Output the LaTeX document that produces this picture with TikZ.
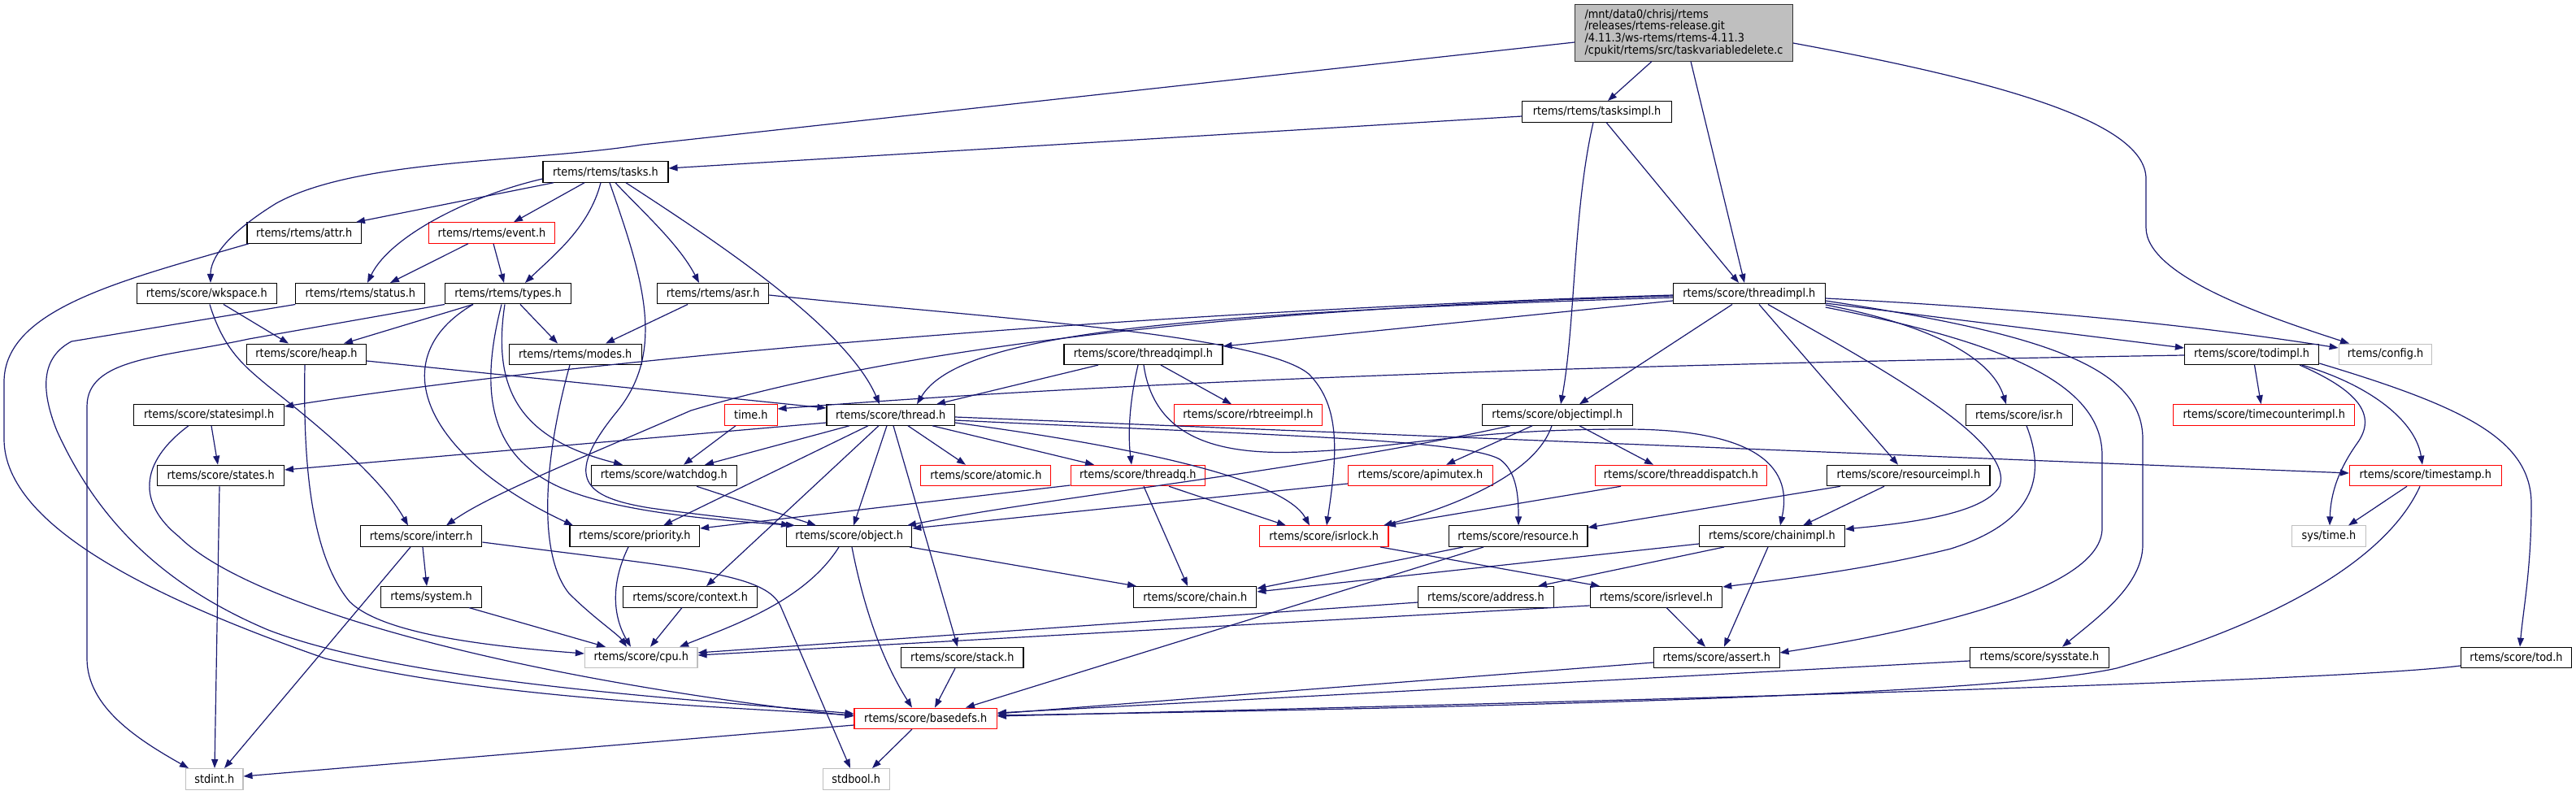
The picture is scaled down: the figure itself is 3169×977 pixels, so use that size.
\documentclass[tikz,border=0pt]{standalone}
\usepackage{fontspec}
\newfontfamily\dxfont[FakeStretch=0.9]{DejaVu Sans}
\usetikzlibrary{arrows.meta}
\definecolor{edgeblue}{HTML}{191970}
\definecolor{lgray}{HTML}{BFBFBF}
\tikzset{
  box/.style={draw=black, line width=1.05pt, fill=white, minimum height=25.5pt, inner sep=0pt, text=black, font=\dxfont\fontsize{14.3}{14.8}\selectfont},
  rbox/.style={box, draw=red},
  gbox/.style={box, draw=lgray},
  mainbox/.style={box, fill=lgray, draw=black!80, align=left, inner xsep=9pt, inner ysep=5pt},
  edge/.style={draw=edgeblue, line width=1.2pt, -{Triangle[length=11pt,width=8pt,fill=edgeblue]}}
}
\begin{document}
\begin{tikzpicture}[x=1pt,y=-1pt]
\useasboundingbox (0,0) rectangle (3169,977);
% nodes
\node[mainbox, minimum width=268pt, minimum height=69.3pt] (main) at (2071.5,40.4) {/mnt/data0/chrisj/rtems\\/releases/rtems-release.git\\/4.11.3/ws-rtems/rtems-4.11.3\\/cpukit/rtems/src/taskvariabledelete.c};
\node[box, minimum width=183.6pt] (tasksimpl) at (1964.6,137.3) {rtems/rtems/tasksimpl.h};
\node[box, minimum width=154pt] (tasks) at (745,211.5) {rtems/rtems/tasks.h};
\node[box, minimum width=140.4pt] (attr) at (374.2,286.5) {rtems/rtems/attr.h};
\node[rbox, minimum width=155pt] (event) at (605,286.5) {rtems/rtems/event.h};
\node[box, minimum width=172pt] (wkspace) at (254.3,361.2) {rtems/score/wkspace.h};
\node[box, minimum width=159pt] (status) at (443.4,361.2) {rtems/rtems/status.h};
\node[box, minimum width=155pt] (types) at (625,361.2) {rtems/rtems/types.h};
\node[box, minimum width=137pt] (asr) at (877.2,361.2) {rtems/rtems/asr.h};
\node[box, minimum width=186.7pt] (threadimpl) at (2151.8,361.2) {rtems/score/threadimpl.h};
\node[box, minimum width=147pt] (heap) at (377,435.8) {rtems/score/heap.h};
\node[box, minimum width=163.3pt] (modes) at (707.7,435.8) {rtems/rtems/modes.h};
\node[box, minimum width=195pt] (threadqimpl) at (1406.5,435.8) {rtems/score/threadqimpl.h};
\node[box, minimum width=165.4pt] (todimpl) at (2770.1,435.8) {rtems/score/todimpl.h};
\node[gbox, minimum width=114.7pt] (config) at (2934.5,435.8) {rtems/config.h};
\node[box, minimum width=184.7pt] (statesimpl) at (257.1,510.5) {rtems/score/statesimpl.h};
\node[rbox, minimum width=64.3pt] (time) at (923.9,510.5) {time.h};
\node[box, minimum width=157.4pt] (thread) at (1095.7,510.5) {rtems/score/thread.h};
\node[rbox, minimum width=182.5pt] (rbtreeimpl) at (1535.5,510.5) {rtems/score/rbtreeimpl.h};
\node[box, minimum width=184.7pt] (objectimpl) at (1915.7,510.5) {rtems/score/objectimpl.h};
\node[box, minimum width=131.2pt] (isr) at (2483.8,510.5) {rtems/score/isr.h};
\node[rbox, minimum width=223.1pt] (timecounterimpl) at (2785.2,510.5) {rtems/score/timecounterimpl.h};
\node[box, minimum width=155.6pt] (states) at (271.7,585) {rtems/score/states.h};
\node[box, minimum width=179.5pt] (watchdog) at (816.8,585) {rtems/score/watchdog.h};
\node[rbox, minimum width=160pt] (atomic) at (1212.9,585) {rtems/score/atomic.h};
\node[rbox, minimum width=165.5pt] (threadq) at (1399.8,585) {rtems/score/threadq.h};
\node[rbox, minimum width=178pt] (apimutex) at (1747.5,585) {rtems/score/apimutex.h};
\node[rbox, minimum width=211.8pt] (threaddispatch) at (2067.9,585) {rtems/score/threaddispatch.h};
\node[box, minimum width=200.1pt] (resourceimpl) at (2347.9,585) {rtems/score/resourceimpl.h};
\node[rbox, minimum width=186.6pt] (timestamp) at (2983.7,585) {rtems/score/timestamp.h};
\node[box, minimum width=149.5pt] (interr) at (518.2,659.7) {rtems/score/interr.h};
\node[box, minimum width=159.6pt] (priority) at (780.8,659.7) {rtems/score/priority.h};
\node[box, minimum width=154pt] (object) at (1044.8,659.7) {rtems/score/object.h};
\node[rbox, minimum width=158.6pt] (isrlock) at (1628.7,659.7) {rtems/score/isrlock.h};
\node[box, minimum width=170.5pt] (resource) at (1867.7,659.7) {rtems/score/resource.h};
\node[box, minimum width=178.6pt] (chainimpl) at (2179.9,659.7) {rtems/score/chainimpl.h};
\node[gbox, minimum width=91pt] (systime) at (2865,659.7) {sys/time.h};
\node[box, minimum width=124.5pt] (system) at (530.6,734.3) {rtems/system.h};
\node[box, minimum width=164.7pt] (context) at (849.2,734.3) {rtems/score/context.h};
\node[box, minimum width=151pt] (chain) at (1470.3,734.3) {rtems/score/chain.h};
\node[box, minimum width=166.3pt] (address) at (1827.9,734.3) {rtems/score/address.h};
\node[box, minimum width=162.7pt] (isrlevel) at (2037.4,734.3) {rtems/score/isrlevel.h};
\node[gbox, minimum width=138.6pt] (cpu) at (788.7,809) {rtems/score/cpu.h};
\node[box, minimum width=150.4pt] (stack) at (1183.8,809) {rtems/score/stack.h};
\node[box, minimum width=154.5pt] (assert) at (2111.8,809) {rtems/score/assert.h};
\node[box, minimum width=170.8pt] (sysstate) at (2508.9,809) {rtems/score/sysstate.h};
\node[box, minimum width=136.4pt] (tod) at (3095.5,809) {rtems/score/tod.h};
\node[rbox, minimum width=175.4pt] (basedefs) at (1138.7,883.8) {rtems/score/basedefs.h};
\node[gbox, minimum width=70.4pt] (stdint) at (263.8,958.3) {stdint.h};
\node[gbox, minimum width=82.3pt] (stdbool) at (1053.2,958.3) {stdbool.h};
% edges
\draw[edge] (main.south -| 2032,0) -- (tasksimpl.north -| 1978,0);
\draw[edge] (main.west |- 0,52) -- (790,178) .. controls (650,200) and (440,195) .. (340,250) .. controls (275,290) and (259,320) .. (wkspace.north -| 259,0);
\draw[edge] (main.south -| 2080,0) -- (threadimpl.north -| 2146,0);
\draw[edge] (main.east |- 0,53) .. controls (2460,100) and (2640,150) .. (2640,220) -- (2640,280) .. controls (2640,340) and (2790,390) .. (config.north -| 2890,0);
\draw[edge] (tasksimpl.west |- 0,143) -- (tasks.east |- 0,207);
\draw[edge] (tasksimpl.south -| 1960,0) .. controls (1935,260) and (1938,400) .. (objectimpl.north -| 1920,0);
\draw[edge] (tasksimpl.south -| 1976,0) -- (threadimpl.north -| 2139,0);
\draw[edge] (tasks.south -| 681,0) -- (attr.north -| 438,0);
\draw[edge] (tasks.south -| 719,0) -- (event.north -| 632,0);
\draw[edge] (tasks.west |- 0,220) .. controls (580,240) and (480,290) .. (status.north -| 452,0);
\draw[edge] (tasks.south -| 739,0) .. controls (725,280) and (680,315) .. (types.north -| 646,0);
\draw[edge] (tasks.south -| 750,0) .. controls (790,340) and (820,430) .. (760,505) .. controls (690,590) and (720,612) .. (800,625) .. controls (880,636) and (930,640) .. (object.north -| 972,0);
\draw[edge] (tasks.south -| 757,0) .. controls (790,260) and (835,300) .. (asr.north -| 860,0);
\draw[edge] (tasks.south -| 770,0) .. controls (870,290) and (1040,400) .. (thread.north -| 1082,0);
\draw[edge] (attr.south -| 306,0) .. controls (150,345) and (5,380) .. (5,470) -- (5,540) .. controls (5,650) and (200,740) .. (400,810) .. controls (600,860) and (900,870) .. (basedefs.west |- 0,880);
\draw[edge] (event.south -| 576,0) -- (status.north -| 480,0);
\draw[edge] (event.south -| 607,0) -- (types.north -| 620,0);
\draw[edge] (wkspace.south -| 275,0) -- (heap.north -| 355,0);
\draw[edge] (wkspace.south -| 258,0) .. controls (275,430) and (300,450) .. (330,475) .. controls (400,530) and (470,590) .. (interr.north -| 502,0);
\draw[edge] (status.south west) -- (88,420) .. controls (50,440) and (50,480) .. (70,530) .. controls (120,640) and (200,720) .. (330,775) .. controls (500,840) and (850,860) .. (basedefs.west |- 0,878);
\draw[edge] (types.south west) -- (306,417) .. controls (200,440) and (107,440) .. (107,500) -- (107,810) .. controls (107,870) and (170,910) .. (stdint.north -| 232,0);
\draw[edge] (types.south -| 582,0) -- (heap.north -| 423,0);
\draw[edge] (types.south -| 582,0) .. controls (470,440) and (520,560) .. (priority.north -| 705,0);
\draw[edge] (types.south -| 617,0) .. controls (590,480) and (600,560) .. (690,600) .. controls (760,630) and (880,640) .. (object.north -| 978,0);
\draw[edge] (types.south -| 621,0) .. controls (605,480) and (640,540) .. (watchdog.north -| 766,0);
\draw[edge] (types.south -| 640,0) -- (modes.north -| 686,0);
\draw[edge] (asr.south -| 846,0) -- (modes.north -| 745,0);
\draw[edge] (asr.east |- 0,363) .. controls (1200,390) and (1550,410) .. (1610,460) .. controls (1650,500) and (1645,560) .. (isrlock.north -| 1632,0);
\draw[edge] (threadimpl.west |- 0,363) .. controls (1500,380) and (800,430) .. (statesimpl.east |- 0,500);
\draw[edge] (threadimpl.west |- 0,364) .. controls (1500,380) and (1100,430) .. (850,505) .. controls (700,570) and (600,610) .. (interr.north -| 549,0);
\draw[edge] (threadimpl.west |- 0,366) .. controls (1450,385) and (1180,410) .. (thread.north -| 1128,0);
\draw[edge] (threadimpl.west |- 0,370) -- (threadqimpl.east |- 0,426);
\draw[edge] (threadimpl.south -| 2131,0) -- (objectimpl.north -| 1943,0);
\draw[edge] (threadimpl.south -| 2164,0) -- (resourceimpl.north -| 2335,0);
\draw[edge] (threadimpl.south -| 2175,0) .. controls (2290,440) and (2480,540) .. (2460,598) .. controls (2440,635) and (2330,645) .. (chainimpl.east |- 0,651);
\draw[edge] (threadimpl.east |- 0,367) .. controls (2500,380) and (2700,400) .. (config.west |- 0,428);
\draw[edge] (threadimpl.east |- 0,373) -- (todimpl.west |- 0,428);
\draw[edge] (threadimpl.east |- 0,375) .. controls (2375,400) and (2450,440) .. (isr.north -| 2468,0);
\draw[edge] (threadimpl.east |- 0,378) .. controls (2460,420) and (2586,470) .. (2586,560) -- (2586,650) .. controls (2586,720) and (2400,770) .. (assert.east |- 0,803);
\draw[edge] (threadimpl.east |- 0,370) .. controls (2510,410) and (2636,450) .. (2636,540) -- (2636,670) .. controls (2636,720) and (2580,760) .. (sysstate.north -| 2537,0);
\draw[edge] (heap.east |- 0,444) -- (thread.west |- 0,502);
\draw[edge] (heap.south -| 375,0) .. controls (373,560) and (380,680) .. (430,740) .. controls (470,780) and (600,795) .. (cpu.west |- 0,804);
\draw[edge] (modes.south -| 701,0) .. controls (670,560) and (660,680) .. (700,730) .. controls (730,760) and (760,780) .. (cpu.north -| 771,0);
\draw[edge] (threadqimpl.south -| 1351,0) -- (thread.north -| 1152,0);
\draw[edge] (threadqimpl.south -| 1400,0) .. controls (1388,500) and (1388,540) .. (threadq.north -| 1392,0);
\draw[edge] (threadqimpl.south -| 1428,0) -- (rbtreeimpl.north -| 1515,0);
\draw[edge] (threadqimpl.south -| 1407,0) .. controls (1420,540) and (1500,560) .. (1600,556) .. controls (1720,552) and (1800,528) .. (2000,528) .. controls (2200,528) and (2200,600) .. (chainimpl.north -| 2190,0);
\draw[edge] (todimpl.west |- 0,437) .. controls (2200,445) and (1500,460) .. (time.east |- 0,503);
\draw[edge] (todimpl.south -| 2773.5,0) -- (timecounterimpl.north -| 2781.5,0);
\draw[edge] (todimpl.south -| 2829,0) .. controls (2900,480) and (2925,510) .. (2900,545) .. controls (2875,580) and (2867,610) .. (systime.north -| 2866,0);
\draw[edge] (todimpl.south -| 2832,0) .. controls (2920,475) and (2972,520) .. (timestamp.north -| 2980,0);
\draw[edge] (todimpl.east |- 0,447) .. controls (3030,500) and (3114,540) .. (3114,620) .. controls (3114,700) and (3104,750) .. (tod.north -| 3100,0);
\draw[edge] (statesimpl.south -| 260,0) -- (states.north -| 268,0);
\draw[edge] (statesimpl.south -| 232,0) .. controls (170,570) and (170,620) .. (220,660) .. controls (300,740) and (600,830) .. (basedefs.west |- 0,881);
\draw[edge] (time.south -| 905,0) -- (watchdog.north -| 841,0);
\draw[edge] (thread.west |- 0,520) -- (states.east |- 0,578);
\draw[edge] (thread.south -| 1045,0) -- (watchdog.north -| 867,0);
\draw[edge] (thread.south -| 1068,0) -- (priority.north -| 816,0);
\draw[edge] (thread.south -| 1081,0) -- (context.north -| 869,0);
\draw[edge] (thread.south -| 1091,0) -- (object.north -| 1050,0);
\draw[edge] (thread.south -| 1099,0) -- (stack.north -| 1178,0);
\draw[edge] (thread.south -| 1117,0) -- (atomic.north -| 1188,0);
\draw[edge] (thread.south -| 1147,0) -- (threadq.north -| 1346,0);
\draw[edge] (thread.east |- 0,513) -- (timestamp.west |- 0,582);
\draw[edge] (thread.east |- 0,517) .. controls (1550,535) and (1800,540) .. (1845,565) .. controls (1866,580) and (1868,610) .. (resource.north -| 1868,0);
\draw[edge] (thread.east |- 0,520) .. controls (1400,550) and (1580,590) .. (isrlock.north -| 1611,0);
\draw[edge] (objectimpl.south -| 1858,0) .. controls (1600,580) and (1300,610) .. (object.north -| 1116,0);
\draw[edge] (objectimpl.south -| 1885,0) -- (apimutex.north -| 1779,0);
\draw[edge] (objectimpl.south -| 1943,0) -- (threaddispatch.north -| 2034,0);
\draw[edge] (objectimpl.south -| 1909,0) .. controls (1890,580) and (1800,620) .. (isrlock.north -| 1702,0);
\draw[edge] (threaddispatch.south -| 1994,0) -- (isrlock.north -| 1706,0);
\draw[edge] (apimutex.west |- 0,595) -- (object.east |- 0,650);
\draw[edge] (isr.south -| 2493,0) .. controls (2515,580) and (2510,640) .. (2400,675) .. controls (2300,700) and (2200,712) .. (isrlevel.east |- 0,722);
\draw[edge] (states.south -| 270,0) -- (stdint.north -| 264,0);
\draw[edge] (watchdog.south -| 857,0) -- (object.north -| 1004,0);
\draw[edge] (threadq.west |- 0,597) -- (priority.east |- 0,650);
\draw[edge] (threadq.south -| 1407,0) -- (chain.north -| 1461,0);
\draw[edge] (threadq.south -| 1438,0) -- (isrlock.north -| 1582,0);
\draw[edge] (resourceimpl.south -| 2264,0) -- (resource.east |- 0,649);
\draw[edge] (resourceimpl.south -| 2318,0) -- (chainimpl.north -| 2218,0);
\draw[edge] (timestamp.south -| 2961,0) -- (systime.north -| 2889,0);
\draw[edge] (timestamp.south -| 2977,0) .. controls (2940,680) and (2820,760) .. (2604,822) .. controls (2480,850) and (2000,868) .. (basedefs.east |- 0,880);
\draw[edge] (interr.south -| 505,0) -- (stdint.north -| 276,0);
\draw[edge] (interr.south -| 520,0) -- (system.north -| 525,0);
\draw[edge] (interr.east |- 0,667) .. controls (850,700) and (940,705) .. (960,745) -- (stdbool.north -| 1046,0);
\draw[edge] (priority.south -| 773,0) .. controls (750,720) and (755,760) .. (cpu.north -| 776,0);
\draw[edge] (object.south -| 1032,0) .. controls (990,740) and (900,770) .. (cpu.north -| 836,0);
\draw[edge] (object.south -| 1048,0) .. controls (1065,760) and (1090,820) .. (basedefs.north -| 1122,0);
\draw[edge] (object.south -| 1119,0) -- (chain.north -| 1398,0);
\draw[edge] (resource.south -| 1800,0) -- (chain.east |- 0,724);
\draw[edge] (resource.south -| 1825,0) -- (basedefs.north -| 1188,0);
\draw[edge] (chainimpl.west |- 0,669) -- (chain.east |- 0,728);
\draw[edge] (chainimpl.south -| 2121,0) -- (address.north -| 1892,0);
\draw[edge] (chainimpl.south -| 2175,0) -- (assert.north -| 2121,0);
\draw[edge] (isrlock.south -| 1698,0) -- (isrlevel.north -| 1968,0);
\draw[edge] (system.south -| 577,0) -- (cpu.north -| 745,0);
\draw[edge] (context.south -| 839,0) -- (cpu.north -| 800,0);
\draw[edge] (address.west |- 0,741) -- (cpu.east |- 0,803);
\draw[edge] (isrlevel.west |- 0,745) -- (cpu.east |- 0,806);
\draw[edge] (isrlevel.south -| 2050,0) -- (assert.north -| 2098,0);
\draw[edge] (stack.south -| 1175,0) -- (basedefs.north -| 1150,0);
\draw[edge] (assert.west |- 0,815) -- (basedefs.east |- 0,878);
\draw[edge] (sysstate.west |- 0,813) -- (basedefs.east |- 0,877);
\draw[edge] (tod.west |- 0,819) .. controls (2900,835) and (2300,855) .. (basedefs.east |- 0,881);
\draw[edge] (basedefs.west |- 0,892) -- (stdint.east |- 0,955);
\draw[edge] (basedefs.south -| 1122,0) -- (stdbool.north -| 1073,0);
\end{tikzpicture}
\end{document}
